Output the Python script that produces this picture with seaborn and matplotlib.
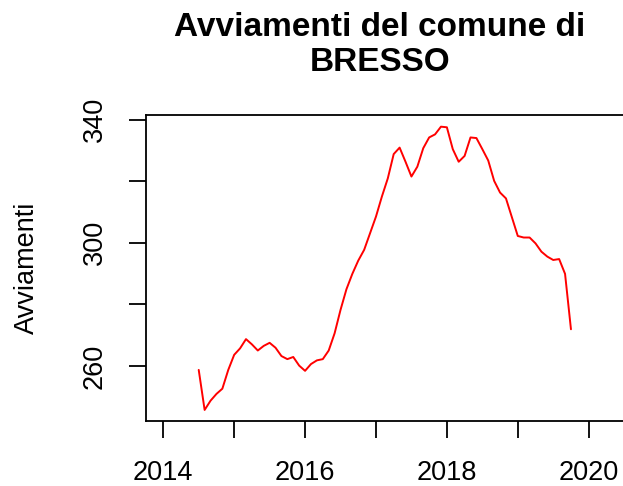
import numpy as np
import pandas as pd
import matplotlib
matplotlib.use("Agg")
import matplotlib.pyplot as plt
import seaborn as sns


# Data: monthly values, July 2014 - October 2019
start_month = "2014-07"

avviamenti = [
    258.7, 245.7, 248.7, 250.9, 252.6, 258.7,
    263.6, 265.7, 268.7, 267.0, 265.0, 266.5,
    267.5, 265.9, 263.2, 262.2, 262.9, 260.1,
    258.4, 260.6, 261.8, 262.2, 265.0, 270.6,
    278.2, 284.9, 289.9, 294.2, 297.7, 303.1,
    308.5, 315.0, 320.9, 328.8, 330.9, 326.3,
    321.5, 324.7, 330.7, 334.2, 335.2, 337.7,
    337.5, 330.4, 326.3, 328.2, 334.2, 334.0,
    330.4, 326.7, 320.1, 316.3, 314.4, 308.3,
    302.2, 301.7, 301.7, 299.8, 297.1, 295.5,
    294.4, 294.7, 289.9, 271.9,
]

x_ticks = [2014, 2015, 2016, 2017, 2018, 2019, 2020]
x_labels = ["2014", "", "2016", "", "2018", "", "2020"]
y_ticks = [260, 280, 300, 320, 340]
y_labels = ["260", "", "300", "", "340"]


dates = pd.date_range(start_month, periods=len(avviamenti), freq="MS")

df = pd.DataFrame({
    "tempo": dates.year + (dates.month - 1) / 12,
    "avviamenti": avviamenti,
})


sns.set_style("white")
plt.rcParams["font.family"] = ["Liberation Sans", "DejaVu Sans"]
plt.rcParams["text.color"] = "black"
plt.rcParams["xtick.color"] = "black"
plt.rcParams["ytick.color"] = "black"
plt.rcParams["axes.labelcolor"] = "black"

fig = plt.figure(figsize=(6.23, 4.86), dpi=100)

ax = fig.add_axes([0.2343, 0.1337, 0.7929, 0.6291])

sns.lineplot(
    data=df,
    x="tempo",
    y="avviamenti",
    color="#ff0000",
    linewidth=1.4,
    ax=ax
)

ax.set_xlim(2013.756, 2020.723)
ax.set_ylim(242.1, 341.4)

ax.set_xticks(x_ticks)
ax.set_xticklabels(x_labels, fontsize=19.5)
ax.set_yticks(y_ticks)
ax.set_yticklabels(y_labels, fontsize=19.5, rotation=90, va="center")

ax.tick_params(
    axis="both",
    direction="out",
    length=12.5,
    width=1.3,
    color="black",
    left=True,
    bottom=True
)
ax.tick_params(axis="x", pad=15.5)
ax.tick_params(axis="y", pad=15)

for spine in ax.spines.values():
    spine.set_color("black")
    spine.set_linewidth(1.3)

ax.set_xlabel("")
ax.set_ylabel("Avviamenti", fontsize=19.5)
ax.yaxis.set_label_coords(-0.214, 0.5)

fig.text(
    380 / 623,
    1 - 45 / 486,
    "Avviamenti del comune di\nBRESSO",
    ha="center",
    va="center",
    fontsize=24,
    fontweight="bold",
    linespacing=1.15
)

fig.savefig("out.png", dpi=100)
plt.close()
